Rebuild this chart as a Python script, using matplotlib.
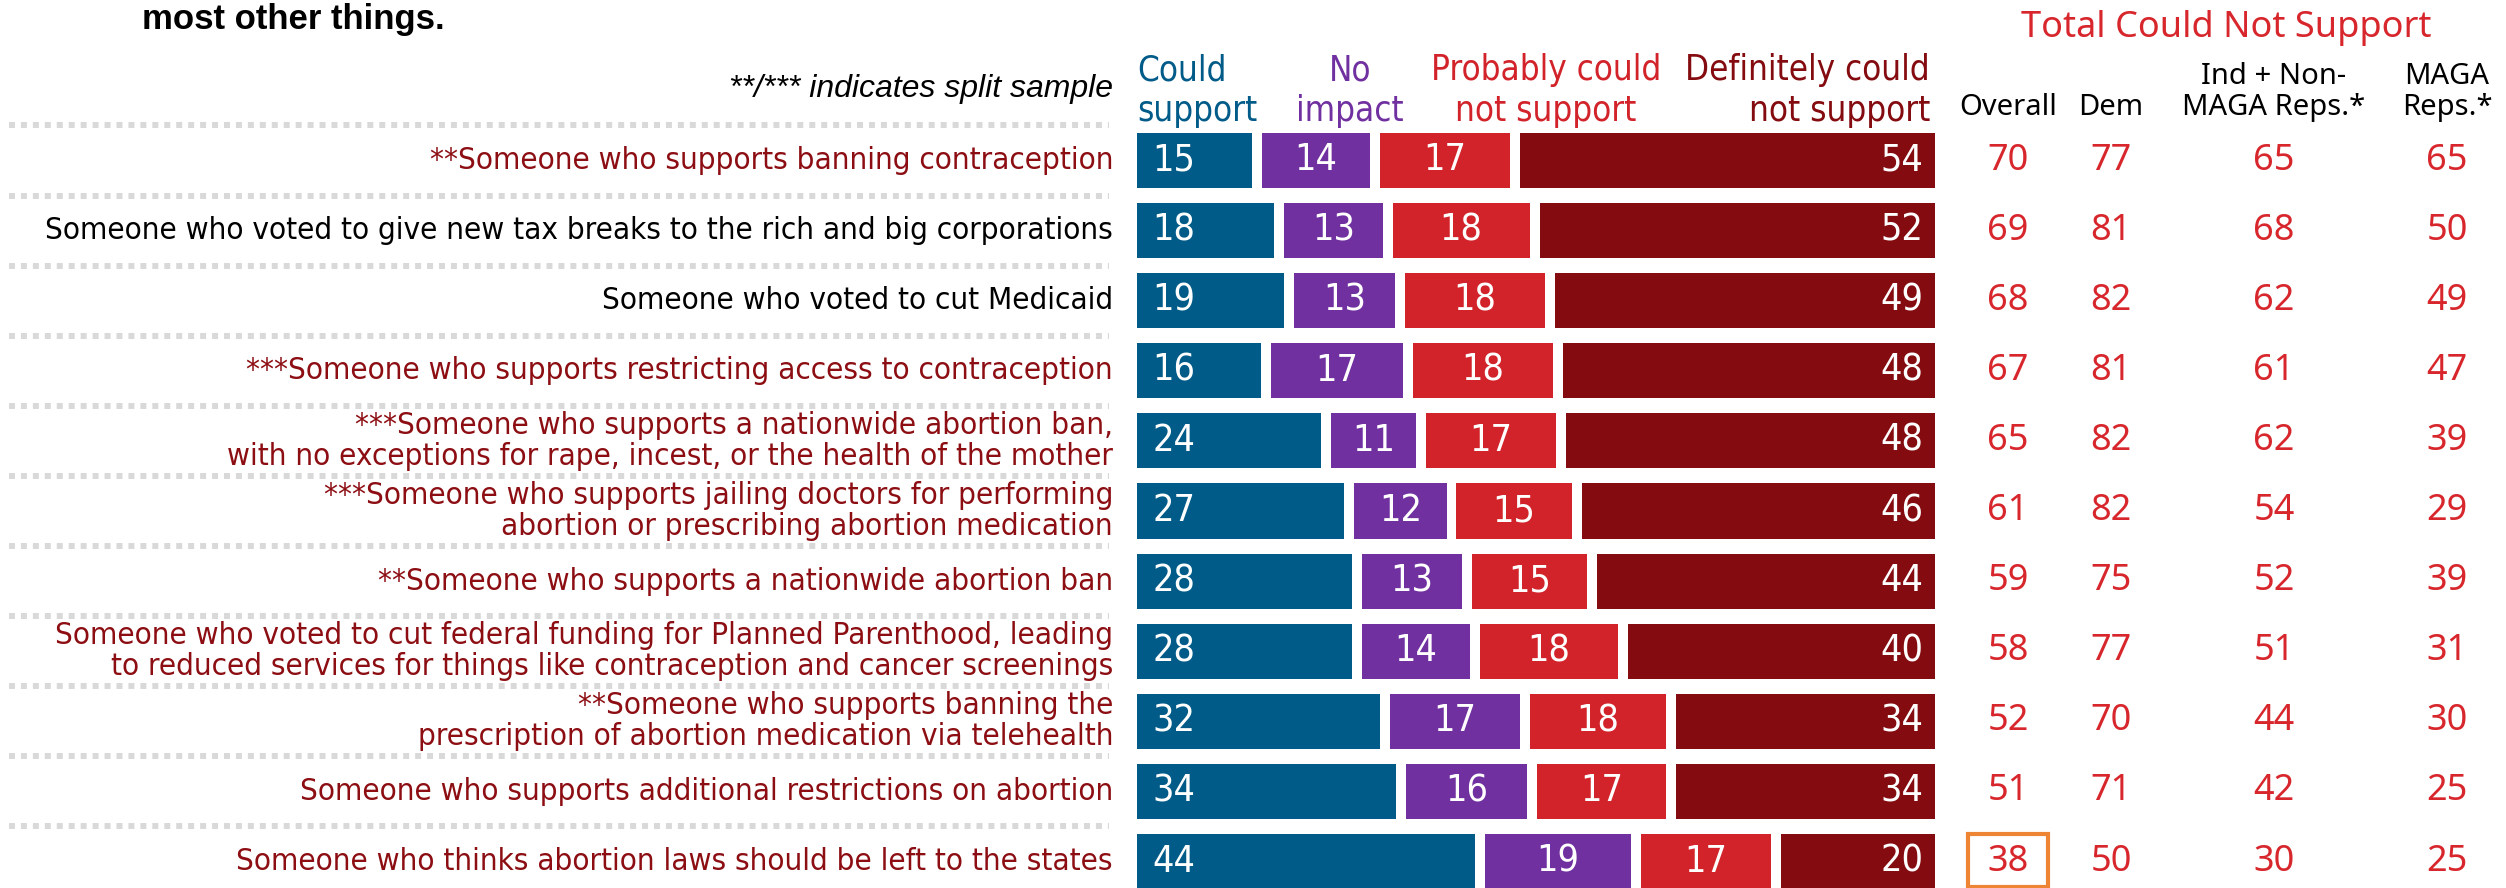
import matplotlib.pyplot as plt
from matplotlib.transforms import blended_transform_factory
from matplotlib.patches import Rectangle

# ---- data ----
labels = [
    "**Someone who supports banning contraception",
    "Someone who voted to give new tax breaks to the rich and big corporations",
    "Someone who voted to cut Medicaid",
    "***Someone who supports restricting access to contraception",
    "***Someone who supports a nationwide abortion ban,\nwith no exceptions for rape, incest, or the health of the mother",
    "***Someone who supports jailing doctors for performing\nabortion or prescribing abortion medication",
    "**Someone who supports a nationwide abortion ban",
    "Someone who voted to cut federal funding for Planned Parenthood, leading\nto reduced services for things like contraception and cancer screenings",
    "**Someone who supports banning the\nprescription of abortion medication via telehealth",
    "Someone who supports additional restrictions on abortion",
    "Someone who thinks abortion laws should be left to the states",
]
black_rows = [1, 2]

could_support = [15, 18, 19, 16, 24, 27, 28, 28, 32, 34, 44]
no_impact = [14, 13, 13, 17, 11, 12, 13, 14, 17, 16, 19]
probably_not = [17, 18, 18, 18, 17, 15, 15, 18, 18, 17, 17]
definitely_not = [54, 52, 49, 48, 48, 46, 44, 40, 34, 34, 20]

overall = [70, 69, 68, 67, 65, 61, 59, 58, 52, 51, 38]
dem = [77, 81, 82, 81, 82, 82, 75, 77, 70, 71, 50]
ind_nonmaga = [65, 68, 62, 61, 62, 54, 52, 51, 44, 42, 30]
maga = [65, 50, 49, 47, 39, 29, 39, 31, 30, 25, 25]

seg_names = ["Could\nsupport", "No\nimpact", "Probably could\nnot support", "Definitely could\nnot support"]
col_names = ["Overall", "Dem", "Ind + Non-\nMAGA Reps.*", "MAGA\nReps.*"]
highlight = (0, 10)  # (column, row) boxed in orange

BLUE = "#005B88"
PURPLE = "#7030A0"
RED = "#D2232A"
DARK = "#840B0F"
LABEL_RED = "#8C0E13"
NUM_RED = "#D7262C"
ORANGE = "#EE8535"
seg_colors = [BLUE, PURPLE, RED, DARK]

W, H = 2506, 888
fig = plt.figure(figsize=(W / 100, H / 100), dpi=100)
ax = fig.add_axes([0, 0, 1, 1])
ax.axis("off")

# bar 0 -> px 1137, 100 -> px 1935 ; rows 70.1 px apart, first centred at 160.5 px
ppu = (1935 - 1137) / 100
ax.set_xlim(-1137 / ppu, (W - 1137) / ppu)
ax.set_ylim((H - 160.5) / 70.1, -160.5 / 70.1)

tr = blended_transform_factory(fig.transFigure, ax.transData)
def fx(px):
    return px / W
def dy(py):
    return (py - 160.5) / 70.1

COND = dict(family="DejaVu Sans", stretch="condensed")
LAB = "Liberation Sans"
COLF = "Noto Sans"

gap = 1.25
bar_h = 0.785
for i in range(len(labels)):
    vals = [could_support[i], no_impact[i], probably_not[i], definitely_not[i]]
    scale = (100 - 3 * gap) / sum(vals)
    cum = 0
    for j, v in enumerate(vals):
        left = cum * scale + j * gap
        w = v * scale
        ax.barh(i, w, left=left, height=bar_h, color=seg_colors[j], linewidth=0)
        if j == 0:
            ax.text(left + 1.9, i, str(v), ha="left", va="center", color="white",
                    fontsize=27, **COND)
        elif j == 3:
            ax.text(left + w - 1.5, i, str(v), ha="right", va="center", color="white",
                    fontsize=27, **COND)
        else:
            ax.text(left + w / 2, i, str(v), ha="center", va="center", color="white",
                    fontsize=27, **COND)
        cum += v

    ax.text(fx(1113), i, labels[i], transform=tr, ha="right", va="center",
            color="black" if i in black_rows else LABEL_RED, fontsize=22.5,
            linespacing=1.07, **COND)

# dotted separators in the label area
for i in range(len(labels)):
    ax.plot([fx(9), fx(1109)], [i - 0.5, i - 0.5], transform=tr, color="#D9D9D9",
            lw=4.3, linestyle=(0, (1, 1)), dash_capstyle="butt")

# segment headers
seg_x = [1137, 1350, 1546, 1930]
seg_ha = ["left", "center", "center", "right"]
for name, x, ha, c in zip(seg_names, seg_x, seg_ha, seg_colors):
    ax.text(fx(x), dy(128), name, transform=tr, ha=ha, va="bottom", color=c,
            fontsize=25, linespacing=1.25, **COND)

# right-hand columns
col_x = [2008, 2111, 2274, 2447]
col_vals = [overall, dem, ind_nonmaga, maga]
ax.text(fx(2226), dy(37), "Total Could Not Support", transform=tr, ha="center",
        va="baseline", color=NUM_RED, fontsize=26, family=COLF)
for name, x, vals in zip(col_names, col_x, col_vals):
    ax.text(fx(x), dy(122), name, transform=tr, ha="center", va="bottom",
            color="black", fontsize=21, family=COLF, linespacing=1.1)
    for i, v in enumerate(vals):
        ax.text(fx(x), i, str(v), transform=tr, ha="center", va="center",
                color=NUM_RED, fontsize=26, family=COLF)

hc, hr = highlight
ax.add_patch(Rectangle((fx(col_x[hc] - 40), hr - 0.39), 80 / W, 0.76, transform=tr,
                       fill=False, edgecolor=ORANGE, lw=3))

ax.text(fx(142), dy(29), "most other things.", transform=tr, ha="left", va="baseline",
        color="black", fontsize=25, weight="bold", family=LAB)
ax.text(fx(1113), dy(97), "**/*** indicates split sample", transform=tr, ha="right",
        va="baseline", color="black", fontsize=23, style="italic", family=LAB)

fig.savefig("out.png", dpi=100)
